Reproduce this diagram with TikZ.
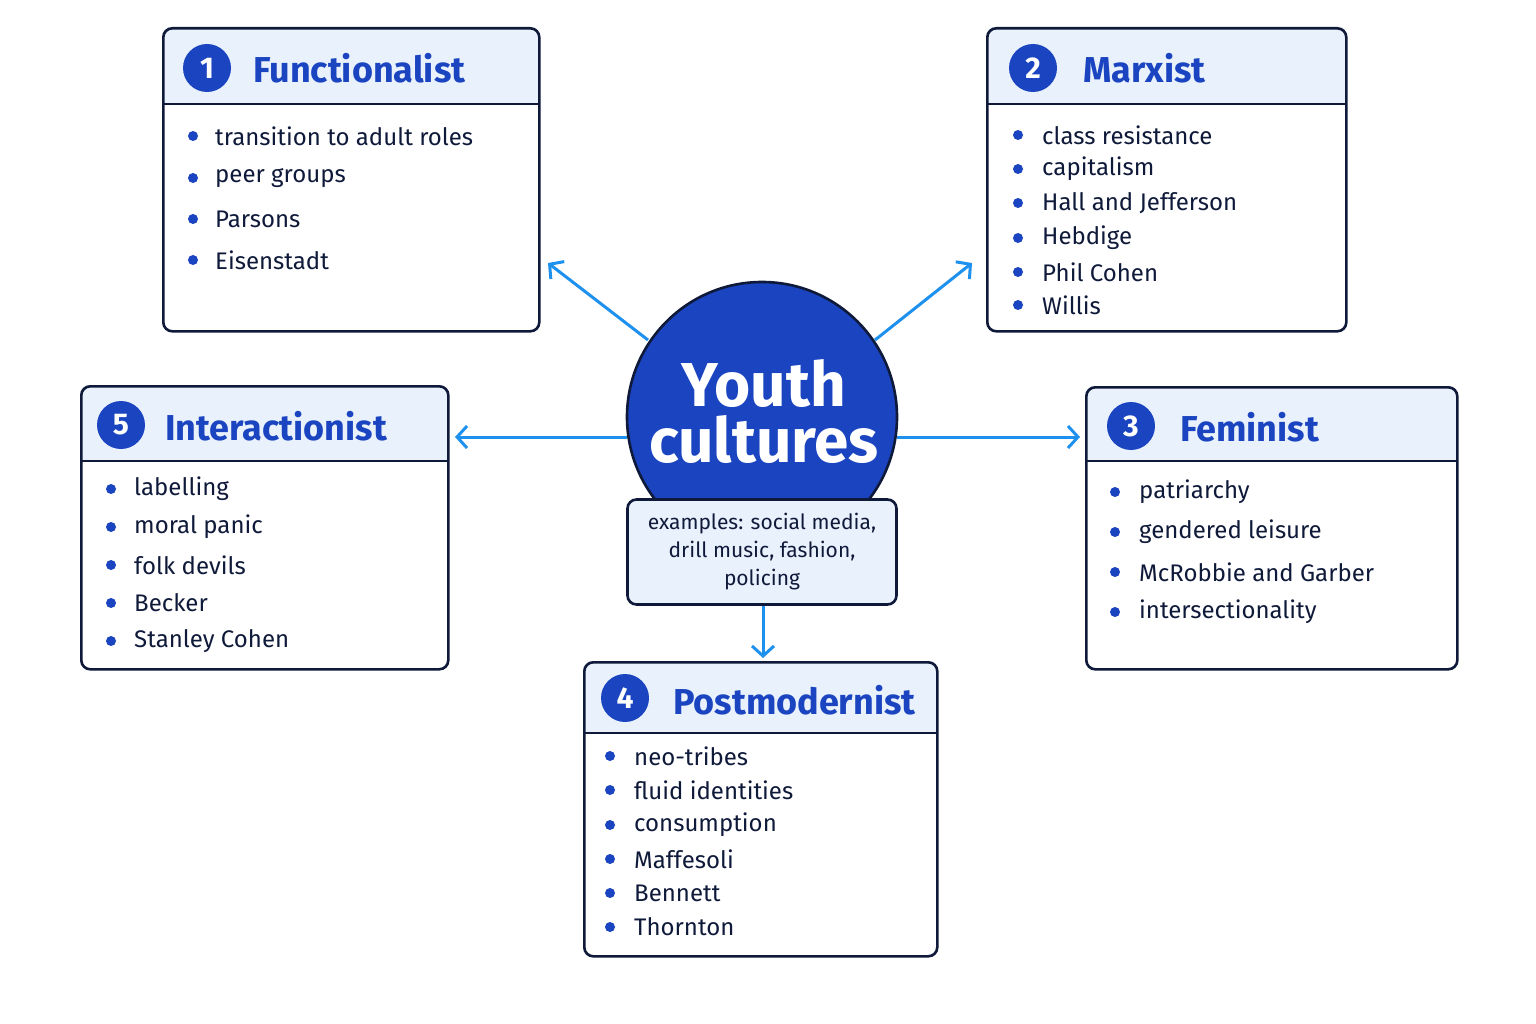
\documentclass[tikz,border=0pt]{standalone}
\usepackage{fontspec}
\setmainfont{Fira Sans}
\usetikzlibrary{arrows.meta}
\definecolor{navy}{HTML}{0F1A3A}
\definecolor{tblue}{HTML}{1A44C0}
\definecolor{hfill}{HTML}{E9F1FC}
\definecolor{arr}{HTML}{1E90EE}
\tikzset{
 box/.style={draw=navy,line width=2.6pt,rounded corners=9pt},
 num/.style={circle,fill=tblue,text=white,minimum size=48pt,inner sep=0pt,font=\fontsize{30}{30}\selectfont\bfseries},
 ttl/.style={anchor=west,text=tblue,font=\fontsize{36}{36}\selectfont\bfseries,inner sep=0pt},
 itm/.style={anchor=west,text=navy,font=\fontsize{24}{24}\selectfont,inner sep=0pt},
 con/.style={draw=arr,line width=3pt,-{Straight Barb[length=10pt,width=22pt,line width=3pt]}}
}
\newcommand{\panel}[9]{%
 \begin{scope}
 \clip[rounded corners=9pt] (#2,#3) rectangle (#4,#5);
 \fill[hfill] (#2,#3) rectangle (#4,#6);
 \end{scope}
 \draw[navy,line width=2.6pt] (#2,#6) -- (#4,#6);
 \node[box,minimum width=#4pt-#2pt,minimum height=#5pt-#3pt,anchor=north west,inner sep=0pt] (#1) at (#2,#3) {};
}
\newcommand{\items}[4]{% bx, tx, list of y/text
 \foreach \yy/\tt in {#3} {\fill[tblue] (#1,\yy) circle (5pt); \node[itm] at (#2,\yy) {\tt};}
}
\begin{document}
\begin{tikzpicture}[x=1pt,y=-1pt]
\useasboundingbox[fill=white] (0,0) rectangle (1536,1024);
% panels
\panel{func}{162}{27}{538}{330}{104}{}{}{}
\node[num] (n1) at (207,68) {1}; \node[ttl] (t1) at (253,68) {Functionalist};
\items{193}{215}{136/transition to adult roles,178/peer groups,219/Parsons,260/Eisenstadt}{}
\panel{marx}{986}{27}{1345}{330}{104}{}{}{}
\node[num] (n2) at (1033,68) {2}; \node[ttl] (t2) at (1083,68) {Marxist};
\items{1018}{1042}{135/class resistance,169/capitalism,203/Hall and Jefferson,238/Hebdige,272/Phil Cohen,305/Willis}{}
\panel{inter}{80}{385}{447}{668}{461}{}{}{}
\node[num] (n5) at (121,425) {5}; \node[ttl] (t5) at (165,426) {Interactionist};
\items{111}{134}{489/labelling,527/moral panic,565/folk devils,603/Becker,641/Stanley Cohen}{}
\panel{fem}{1085}{386}{1456}{668}{461}{}{}{}
\node[num] (n3) at (1131,426) {3}; \node[ttl] (t3) at (1180,427) {Feminist};
\items{1115}{1139}{492/patriarchy,532/gendered leisure,572/McRobbie and Garber,612/intersectionality}{}
\panel{post}{583}{661}{936}{955}{733}{}{}{}
\node[num] (n4) at (625,698) {4}; \node[ttl] (t4) at (673,700) {Postmodernist};
\items{610}{634}{756/neo-tribes,790/fluid identities,825/consumption,859/Maffesoli,893/Bennett,927/Thornton}{}
% centre
\node[circle,draw=navy,line width=2.6pt,fill=tblue,minimum size=270pt,inner sep=0pt] (yc) at (762,417) {};
\node[text=white,font=\fontsize{62}{56}\selectfont\bfseries,align=center] (yt) at (764,412) {Youth\\cultures};
\node[draw=navy,line width=2.6pt,fill=hfill,rounded corners=9pt,minimum width=269pt,minimum height=105pt,inner sep=0pt,align=center,text=navy,font=\fontsize{21}{28}\selectfont] (ex) at (762,552) {examples: social media,\\drill music, fashion,\\policing};
% connectors
\coordinate (e1) at (548,263); \coordinate (e2) at (972,263);
\coordinate (e5) at (455,437); \coordinate (e3) at (1080,437); \coordinate (e4) at (763,658);
\coordinate (s1) at (648,340); \coordinate (s2) at (875,340);
\coordinate (s5) at (627,437); \coordinate (s3) at (897,437); \coordinate (s4) at (763,606);
\draw[con] (s1) -- (e1);
\draw[con] (s2) -- (e2);
\draw[con] (s5) -- (e5);
\draw[con] (s3) -- (e3);
\draw[con] (s4) -- (e4);
\end{tikzpicture}
\end{document}
